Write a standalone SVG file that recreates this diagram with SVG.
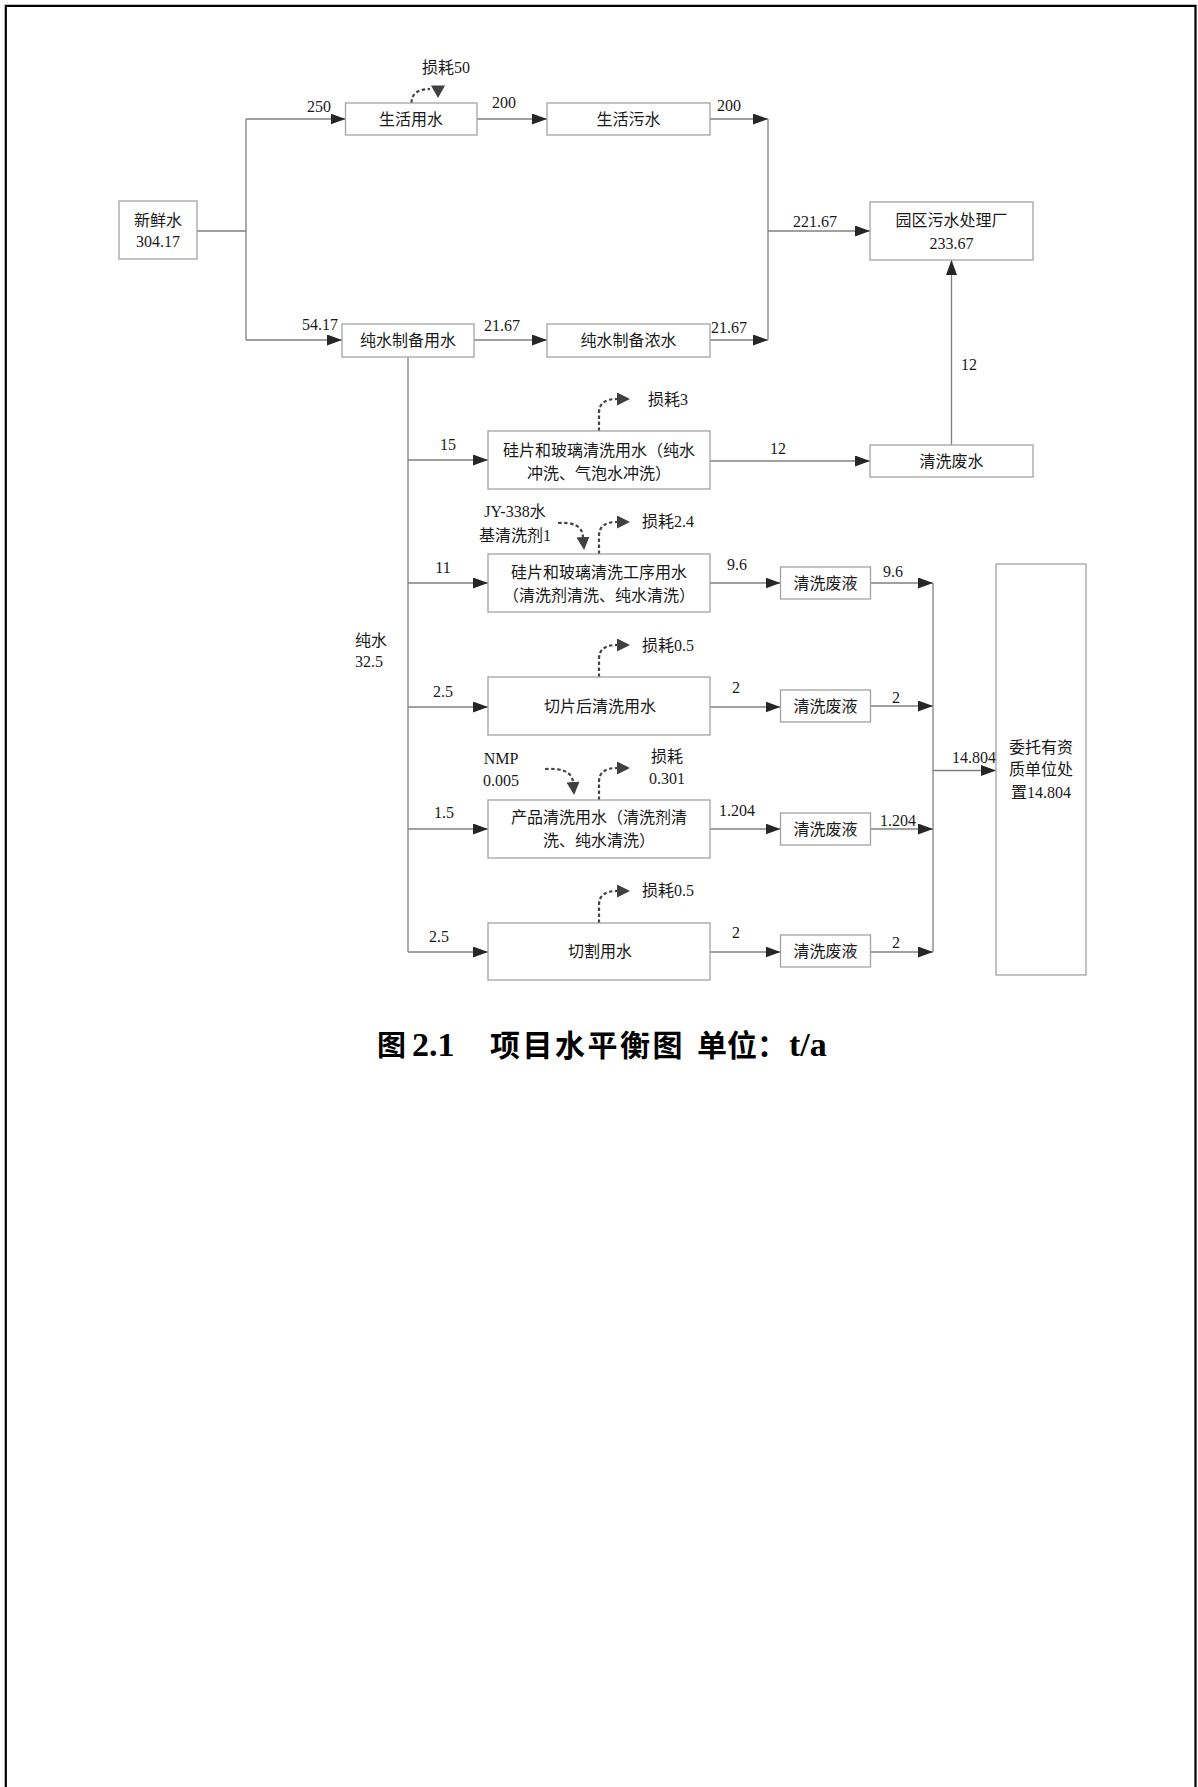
<svg xmlns="http://www.w3.org/2000/svg" width="1198" height="1787" viewBox="0 0 1198 1787">
<style>
.box{fill:#fff;stroke:#a3a3a3;stroke-width:1.3}
.ln{fill:none;stroke:#808080;stroke-width:1.3}
.arr{fill:none;stroke:#808080;stroke-width:1.3;marker-end:url(#ah)}
.dash{fill:none;stroke:#444;stroke-width:2.2;stroke-dasharray:3.5 2.5;marker-end:url(#dh)}
text{font-family:"Liberation Serif","Noto Sans CJK SC",serif;font-size:16px;fill:#1a1a1a}
.m{text-anchor:middle}
.cap{font-weight:bold;fill:#000}
</style>
<defs>
<marker id="ah" markerUnits="userSpaceOnUse" markerWidth="15" markerHeight="11" refX="15" refY="5.5" orient="auto">
<path d="M0,0 L15,5.5 L0,11 Z" fill="#262626"/>
</marker>
<marker id="dh" markerUnits="userSpaceOnUse" markerWidth="14" markerHeight="13" refX="0" refY="6.5" orient="auto">
<path d="M0,0 L13,6.5 L0,13 Z" fill="#404040"/>
</marker>
</defs>
<rect width="1198" height="1787" fill="#fff"/>
<g id="page-border">
<path d="M5.8,1787 V5.8 H1195.5 V1787" fill="none" stroke="#000" stroke-width="2.2"/>
</g>

<g id="connectors">
<path class="ln" d="M197,231 H246"/>
<path class="ln" d="M246,119 V340"/>
<path class="arr" d="M246,119 H345.5"/>
<path class="arr" d="M246,340 H342"/>
<path class="arr" d="M477,119 H547"/>
<path class="arr" d="M710,119 H768"/>
<path class="arr" d="M474,340 H547"/>
<path class="arr" d="M710,340 H768"/>
<path class="ln" d="M768,119 V340"/>
<path class="arr" d="M768,231 H870"/>
<path class="arr" d="M951.5,445 V260"/>
<path class="ln" d="M408,357 V952"/>
<path class="arr" d="M408,460 H488"/>
<path class="arr" d="M408,583 H488"/>
<path class="arr" d="M408,707 H488"/>
<path class="arr" d="M408,829 H488"/>
<path class="arr" d="M408,952 H488"/>
<path class="arr" d="M710,461 H870"/>
<path class="arr" d="M710,583 H780.5"/>
<path class="arr" d="M710,707 H780.5"/>
<path class="arr" d="M710,829 H780.5"/>
<path class="arr" d="M710,952 H780.5"/>
<path class="arr" d="M870.5,583 H933"/>
<path class="arr" d="M870.5,706 H933"/>
<path class="arr" d="M870.5,829 H933"/>
<path class="arr" d="M870.5,952 H933"/>
<path class="ln" d="M933,583 V952"/>
<path class="arr" d="M933,770.5 H996"/>
<path d="M411.5,103 C411.5,93 419,89 430,89" fill="none" stroke="#444" stroke-width="2.2" stroke-dasharray="3.5 2.5"/>
<polygon points="431,85.5 445,85.5 438,98" fill="#404040"/>
<path class="dash" d="M599,431 V413 Q599,399 617,399"/>
<path class="dash" d="M599,554 V536 Q599,522 617,522"/>
<path class="dash" d="M599,677 V659 Q599,645 617,645"/>
<path class="dash" d="M599,800 V782 Q599,768 617,768"/>
<path class="dash" d="M599,923 V905 Q599,891 617,891"/>
<path class="dash" d="M558,523 C572,522 582,525 583,537"/>
<path class="dash" d="M545,769 C560,768 572,771 573,782"/>
<text class="m" x="319" y="112">250</text>
<text class="m" x="504" y="108">200</text>
<text class="m" x="729" y="111">200</text>
<text class="m" x="320" y="330">54.17</text>
<text class="m" x="502" y="331">21.67</text>
<text class="m" x="729" y="333">21.67</text>
<text class="m" x="815" y="227">221.67</text>
<text class="m" x="969" y="370">12</text>
<text class="m" x="778" y="454">12</text>
<text class="m" x="448" y="450">15</text>
<text class="m" x="443" y="573">11</text>
<text class="m" x="737" y="570">9.6</text>
<text class="m" x="443" y="697">2.5</text>
<text class="m" x="736" y="693">2</text>
<text class="m" x="444" y="818">1.5</text>
<text class="m" x="737" y="816">1.204</text>
<text class="m" x="439" y="942">2.5</text>
<text class="m" x="736" y="938">2</text>
<text class="m" x="893" y="577">9.6</text>
<text class="m" x="896" y="703">2</text>
<text class="m" x="898" y="826">1.204</text>
<text class="m" x="896" y="948">2</text>
<text class="m" x="974" y="763">14.804</text>
<text class="m" x="371" y="646">纯水</text>
<text class="m" x="369" y="667">32.5</text>
<text class="m" x="446" y="73">损耗50</text>
<text x="648" y="405">损耗3</text>
<text x="642" y="527">损耗2.4</text>
<text x="642" y="651">损耗0.5</text>
<text class="m" x="667" y="762">损耗</text>
<text class="m" x="667" y="784">0.301</text>
<text x="642" y="896">损耗0.5</text>
<text class="m" x="515" y="517">JY-338水</text>
<text class="m" x="515" y="541">基清洗剂1</text>
<text class="m" x="501" y="764">NMP</text>
<text class="m" x="501" y="786">0.005</text>
</g>

<g id="n-fresh"><rect class="box" x="119" y="201" width="78" height="58"/><text class="m" x="158" y="226">新鲜水</text><text class="m" x="158" y="247">304.17</text></g>
<g id="n-domestic"><rect class="box" x="345.5" y="103" width="131.5" height="32"/><text class="m" x="411" y="125">生活用水</text></g>
<g id="n-sewage"><rect class="box" x="547" y="103" width="163" height="32"/><text class="m" x="628.5" y="125">生活污水</text></g>
<g id="n-pure"><rect class="box" x="342" y="324" width="132" height="33"/><text class="m" x="408" y="346">纯水制备用水</text></g>
<g id="n-conc"><rect class="box" x="547" y="324" width="163" height="33"/><text class="m" x="628.5" y="346">纯水制备浓水</text></g>
<g id="n-plant"><rect class="box" x="870" y="202" width="163" height="58"/><text class="m" x="951.5" y="226">园区污水处理厂</text><text class="m" x="951.5" y="249">233.67</text></g>
<g id="n-washwater"><rect class="box" x="870" y="445" width="163" height="32"/><text class="m" x="951.5" y="467">清洗废水</text></g>
<g id="n-w1"><rect class="box" x="488" y="431" width="222" height="58"/><text class="m" x="599" y="456">硅片和玻璃清洗用水（纯水</text><text class="m" x="599" y="479">冲洗、气泡水冲洗）</text></g>
<g id="n-w2"><rect class="box" x="488" y="554" width="222" height="58"/><text class="m" x="599" y="578">硅片和玻璃清洗工序用水</text><text class="m" x="599" y="601">（清洗剂清洗、纯水清洗）</text></g>
<g id="n-w3"><rect class="box" x="488" y="677" width="222" height="58"/><text class="m" x="600" y="712">切片后清洗用水</text></g>
<g id="n-w4"><rect class="box" x="488" y="800" width="222" height="58"/><text class="m" x="599" y="823">产品清洗用水（清洗剂清</text><text class="m" x="599" y="846">洗、纯水清洗）</text></g>
<g id="n-w5"><rect class="box" x="488" y="923" width="222" height="57"/><text class="m" x="600" y="957">切割用水</text></g>
<g id="n-l1"><rect class="box" x="780.5" y="567" width="90" height="32"/><text class="m" x="825.5" y="589">清洗废液</text></g>
<g id="n-l2"><rect class="box" x="780.5" y="690" width="90" height="32"/><text class="m" x="825.5" y="712">清洗废液</text></g>
<g id="n-l3"><rect class="box" x="780.5" y="813" width="90" height="32"/><text class="m" x="825.5" y="835">清洗废液</text></g>
<g id="n-l4"><rect class="box" x="780.5" y="935" width="90" height="32"/><text class="m" x="825.5" y="957">清洗废液</text></g>
<g id="n-disposal"><rect class="box" x="996" y="564" width="90" height="411"/><text class="m" x="1041" y="753">委托有资</text><text class="m" x="1041" y="775">质单位处</text><text class="m" x="1041" y="798">置14.804</text></g>

<g id="caption">
<text class="cap" y="1056"><tspan x="377" style="font-size:29px">图</tspan><tspan x="412" style="font-size:34px">2.1</tspan><tspan x="490" style="font-size:30px;letter-spacing:2.5px">项目水平衡图</tspan><tspan x="697" style="font-size:30px">单位：</tspan><tspan x="789" style="font-size:34px">t/a</tspan></text>
</g>
</svg>
